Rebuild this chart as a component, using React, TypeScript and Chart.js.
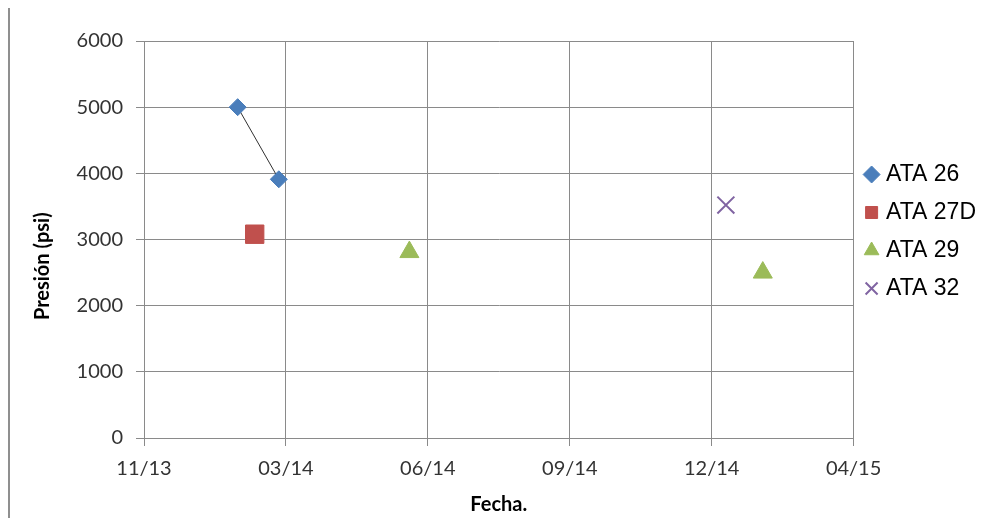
import React, { useEffect, useRef } from "react";
import { Chart, registerables } from "chart.js";

Chart.register(...registerables);

const ata26Dates = ["2014-01-30", "2014-02-28"];
const ata26Psi = [5000, 3910];
const ata27dDates = ["2014-02-11"];
const ata27dPsi = [3080];
const ata29Dates = ["2014-05-31", "2015-02-04"];
const ata29Psi = [2810, 2500];
const ata32Dates = ["2015-01-09"];
const ata32Psi = [3520];

const xTickDates = ["2013-11-25", "2014-03-05", "2014-06-13", "2014-09-21", "2014-12-30", "2015-04-09"];
const yMin = 0;
const yMax = 6000;
const yStep = 1000;

const DAY = 86400000;
const toDay = (s: string) => Date.parse(s + "T00:00:00Z") / DAY;
const pts = (dates: string[], vals: number[]) => dates.map((d, i) => ({ x: toDay(d), y: vals[i] }));
const fmt = (v: number) => {
  const d = new Date(Math.round(v) * DAY);
  const mm = String(d.getUTCMonth() + 1).padStart(2, "0");
  const yy = String(d.getUTCFullYear() % 100).padStart(2, "0");
  return `${mm}/${yy}`;
};

const GRID = "#8a8a8a";
const TICK_FONT = { family: "Lato", size: 20 };
const TITLE_FONT = { family: "Lato", size: 20, weight: "bold" as const };

export default function App() {
  const ref = useRef<HTMLCanvasElement | null>(null);

  useEffect(() => {
    if (!ref.current) return;
    const chart = new Chart(ref.current, {
      type: "scatter",
      data: {
        datasets: [
          {
            label: "ATA 26",
            data: pts(ata26Dates, ata26Psi),
            showLine: true,
            borderColor: "#303030",
            borderWidth: 1,
            pointStyle: "rectRot",
            pointRadius: 8.5,
            pointBackgroundColor: "#4A7EBB",
            pointBorderColor: "#4A7EBB",
            pointBorderWidth: 1,
          },
          {
            label: "ATA 27D",
            data: pts(ata27dDates, ata27dPsi),
            pointStyle: "rect",
            pointRadius: 13,
            backgroundColor: "#C0504D",
            borderColor: "#C0504D",
            pointBackgroundColor: "#C0504D",
            pointBorderColor: "#C0504D",
            pointBorderWidth: 1,
          },
          {
            label: "ATA 29",
            data: pts(ata29Dates, ata29Psi),
            pointStyle: "triangle",
            pointRadius: 11,
            backgroundColor: "#9BBB59",
            borderColor: "#9BBB59",
            pointBackgroundColor: "#9BBB59",
            pointBorderColor: "#9BBB59",
            pointBorderWidth: 1,
          },
          {
            label: "ATA 32",
            data: pts(ata32Dates, ata32Psi),
            pointStyle: "crossRot",
            pointRadius: 12,
            backgroundColor: "#8064A2",
            borderColor: "#8064A2",
            pointBackgroundColor: "#8064A2",
            pointBorderColor: "#8064A2",
            pointBorderWidth: 2,
          },
        ],
      },
      options: {
        responsive: false,
        animation: false,
        layout: { padding: { top: 33, left: 0, bottom: 0, right: 3 } },
        plugins: {
          tooltip: { enabled: false },
          legend: {
            position: "right",
            align: "start",
            title: {
              display: true,
              text: "",
              font: { size: 10 },
              padding: { top: 95, bottom: 0 },
            },
            labels: {
              usePointStyle: true,
              boxWidth: 6,
              boxHeight: 12,
              padding: 15,
              color: "#000",
              font: { family: "Liberation Sans", size: 23 },
            },
          },
        },
        scales: {
          x: {
            type: "linear",
            min: toDay(xTickDates[0]),
            max: toDay(xTickDates[xTickDates.length - 1]),
            afterBuildTicks: (scale: any) => {
              scale.ticks = xTickDates.map((d) => ({ value: toDay(d) }));
            },
            afterFit: (scale: any) => {
              scale.height = 80;
            },
            grid: { color: GRID, lineWidth: 1, drawTicks: true, tickLength: 8, tickColor: GRID },
            border: { color: GRID, width: 1 },
            ticks: {
              callback: (v: any) => fmt(Number(v)),
              color: "#333",
              font: TICK_FONT,
              padding: 11,
              maxRotation: 0,
              autoSkip: false,
            },
            title: {
              display: true,
              text: "Fecha.",
              color: "#000",
              font: TITLE_FONT,
              padding: { top: 0, bottom: 1 },
            },
          },
          y: {
            type: "linear",
            min: yMin,
            max: yMax,
            afterFit: (scale: any) => {
              scale.width = 134;
            },
            grid: { color: GRID, lineWidth: 1, drawTicks: true, tickLength: 8, tickColor: GRID },
            border: { color: GRID, width: 1 },
            ticks: {
              stepSize: yStep,
              callback: (v: any) => String(v),
              color: "#333",
              font: TICK_FONT,
              padding: 13,
            },
            title: {
              display: true,
              text: "Presión (psi)" + "\u00A0".repeat(11),
              color: "#000",
              font: TITLE_FONT,
              padding: { top: 21, bottom: 0 },
            },
          },
        },
      },
    });
    return () => chart.destroy();
  }, []);

  return (
    <div style={{ borderLeft: "2px solid #8f8f8f", width: 979, height: 510 }}>
      <canvas ref={ref} width={979} height={510} style={{ display: "block" }} />
    </div>
  );
}
